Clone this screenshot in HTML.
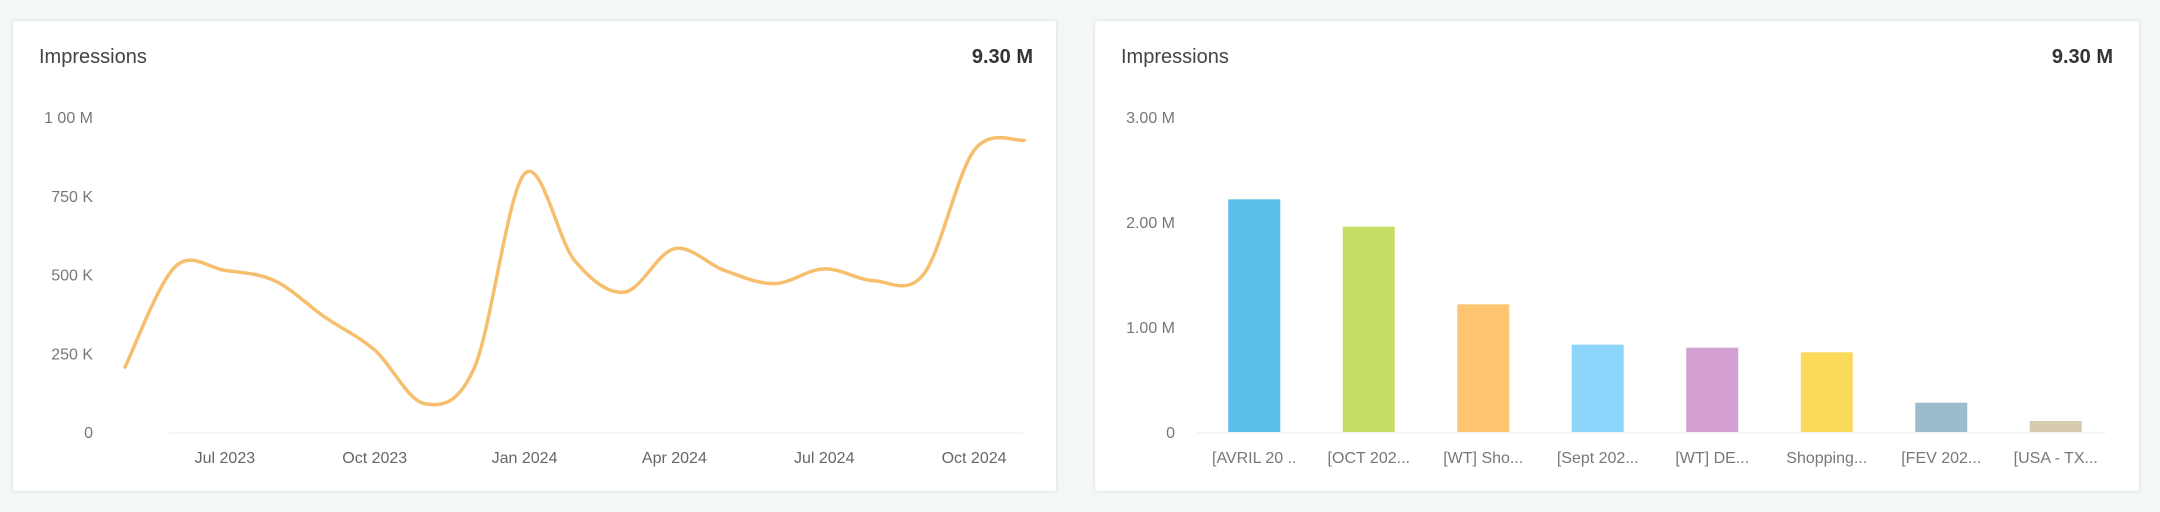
<!DOCTYPE html>
<html><head><meta charset="utf-8">
<style>
html,body{margin:0;padding:0;width:2160px;height:512px;background:#f3f7f7;overflow:hidden;font-family:"Liberation Sans",sans-serif;}
.card{position:absolute;top:21px;height:470px;background:#fff;box-shadow:0 0 4px rgba(0,0,0,0.12);border-radius:2px;}
svg{position:absolute;left:0;top:0;}
text{font-family:"Liberation Sans",sans-serif;}
</style></head><body>
<div class="card" style="left:13px;width:1043px;"></div>
<div class="card" style="left:1095px;width:1044px;"></div>
<svg id="s" width="2160" height="512">
<text x="39" y="63" font-size="20" fill="#444">Impressions</text>
<text x="1033" y="63" font-size="20" font-weight="bold" fill="#333" text-anchor="end">9.30 M</text>
<text x="1121" y="63" font-size="20" fill="#444">Impressions</text>
<text x="2113" y="63" font-size="20" font-weight="bold" fill="#333" text-anchor="end">9.30 M</text>
<g id="lc"></g><g id="bc"></g>
</svg>
<script>
const months=["2023-05","2023-06","2023-07","2023-08","2023-09","2023-10","2023-11","2023-12","2024-01","2024-02","2024-03","2024-04","2024-05","2024-06","2024-07","2024-08","2024-09","2024-10","2024-11"];
const impressions=[206000,524000,513000,480000,365000,260000,90000,206000,820000,545000,444000,582000,513000,471000,518000,480000,503000,894000,926000];
const lineTicks=[0,250000,500000,750000,1000000];
const lineTickLabels=["0","250 K","500 K","750 K","1 00 M"];
const xTickDates=["2023-07","2023-10","2024-01","2024-04","2024-07","2024-10"];
const xTickLabels=["Jul 2023","Oct 2023","Jan 2024","Apr 2024","Jul 2024","Oct 2024"];
const barCats=["[AVRIL 20 ..","[OCT 202...","[WT] Sho...","[Sept 202...","[WT] DE...","Shopping...","[FEV 202...","[USA - TX..."];
const barVals=[2216000,1956000,1216000,832000,803000,759000,279000,105000];
const barTicks=[0,1000000,2000000,3000000];
const barTickLabels=["0","1.00 M","2.00 M","3.00 M"];
const barColors=["#5bbfea","#c5df66","#fdc572","#8dd6fb","#d3a0d1","#fbd95a","#9bbccb","#d6cab0"];
const NS="http://www.w3.org/2000/svg";
function mk(t,a,p){const e=document.createElementNS(NS,t);for(const k in a)e.setAttribute(k,a[k]);p.appendChild(e);return e;}
const lc=document.getElementById('lc'),bc=document.getElementById('bc');
// line chart axes
function mIdx(s){const [y,m]=s.split('-').map(Number);return (y-2023)*12+(m-5);}
const x0=125,x1=1024;
const xL=i=>x0+(x1-x0)*i/(months.length-1);
const yL=v=>432-v/1000000*315;
lineTicks.forEach((t,i)=>{
  const e=mk('text',{x:93,y:yL(t)+6,'font-size':16,fill:'#777','text-anchor':'end'},lc);
  
  
  e.textContent=lineTickLabels[i];
});
const bl=mk('line',{x1:169,x2:1023,y1:433,y2:433,stroke:'#eee','stroke-width':1},lc);


xTickDates.forEach((d,i)=>{
  const e=mk('text',{x:xL(mIdx(d)),y:463,'font-size':16,fill:'#666','text-anchor':'middle'},lc);
  
  
  e.textContent=xTickLabels[i];
});
const pts=impressions.map((v,i)=>[xL(i),yL(v)]);
let d='M'+pts[0][0]+','+pts[0][1];
for(let i=0;i<pts.length-1;i++){
  const p0=pts[Math.max(0,i-1)],p1=pts[i],p2=pts[i+1],p3=pts[Math.min(pts.length-1,i+2)];
  const c1=[p1[0]+(p2[0]-p0[0])/6,p1[1]+(p2[1]-p0[1])/6];
  const c2=[p2[0]-(p3[0]-p1[0])/6,p2[1]-(p3[1]-p1[1])/6];
  d+=` C${c1[0]},${c1[1]} ${c2[0]},${c2[1]} ${p2[0]},${p2[1]}`;
}
const path=mk('path',{d:d,fill:'none',stroke:'#f5bf6e','stroke-width':3.5,'stroke-linejoin':'round','stroke-linecap':'round'},lc);


// bar chart
const bx0=1197,bx1=2113;
const step=(bx1-bx0)/barCats.length;
const xB=i=>bx0+step*(i+0.5);
const yB=v=>432-v/1000000*105;
barTicks.forEach((t,i)=>{
  const e=mk('text',{x:1175,y:yB(t)+6,'font-size':16,fill:'#777','text-anchor':'end'},bc);
  
  
  e.textContent=barTickLabels[i];
});
const bbl=mk('line',{x1:1197,x2:2106,y1:433,y2:433,stroke:'#eee','stroke-width':1},bc);


barVals.forEach((v,i)=>{
  const r=mk('rect',{x:xB(i)-26,y:yB(v),width:52,height:432-yB(v),fill:barColors[i]},bc);
  
  
  const t=mk('text',{x:xB(i),y:463,'font-size':16,fill:'#777','text-anchor':'middle'},bc);
  
  
  t.textContent=barCats[i];
});
</script>
</body></html>
